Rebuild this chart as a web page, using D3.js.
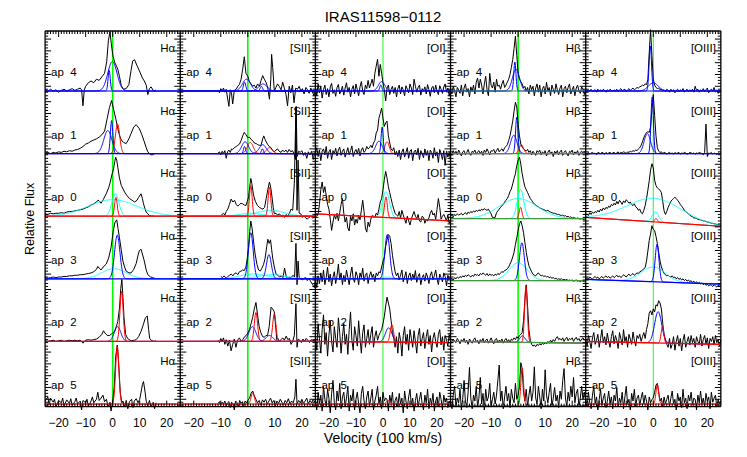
<!DOCTYPE html>
<html><head><meta charset="utf-8">
<script src="https://cdnjs.cloudflare.com/ajax/libs/d3/7.8.5/d3.min.js"></script>
<style>body{margin:0;background:#fff} svg{display:block} text{font-family:"Liberation Sans",Arial,sans-serif;fill:#000}</style>
</head><body><svg id="c" width="747" height="457"></svg>
<script>
// ---------------- categories / labels ----------------
const apertures = ["ap  4","ap  1","ap  0","ap  3","ap  2","ap  5"];
const lineNames = ["Hα","[SII]","[OI]","Hβ","[OIII]"];
const xTickLabels = [-20,-10,0,10,20];
const titleText = "IRAS11598−0112";
const xTitle = "Velocity (100 km/s)";
const yTitle = "Relative Flux";

// ---------------- observed spectra (velocity in 100 km/s, relative flux) ----------------
const ha_ap4 = [[-25,0.02],[-24,-0.01],[-23,0.03],[-22,0],[-21,0.02],[-20,-0.02],[-19,0.01],[-18,0.03],[-17,0],[-16,0.02],[-15,0.04],[-14,0.01],[-13,0.03],[-12,0.05],[-11.5,0.02],[-11,-0.25],[-10.5,0.02],[-10,0.08],[-9,0.14],[-8,0.17],[-7,0.14],[-6,0.2],[-5,0.18],[-4,0.24],[-3,0.3],[-2.2,0.5],[-1.6,0.85],[-1,1.0],[-0.5,0.8],[0,0.62],[0.7,0.49],[1.4,0.42],[1.9,0.37],[2.5,0.25],[3.2,0.09],[4,0.03],[5,0.04],[6,0.11],[6.8,0.35],[7.4,0.51],[8.1,0.53],[9,0.43],[9.9,0.34],[11,0.22],[11.7,0.17],[12.4,0.1],[13,-0.06],[13.6,0.04],[14.2,0.07],[15,0.01],[15.5,0],[16,0.02]];
const ha_ap1 = [[-25,0.01],[-24,0.02],[-23,0],[-22,0.02],[-21,0.01],[-20,0.03],[-19,0.02],[-18,0.04],[-17,0.03],[-16,0.05],[-15,0.04],[-14,0.06],[-13,0.07],[-12,0.09],[-11,0.12],[-10,0.16],[-9,0.18],[-8,0.21],[-7,0.23],[-6,0.25],[-5,0.28],[-4,0.32],[-3,0.38],[-2,0.6],[-1.2,0.78],[-0.4,0.9],[0.3,0.76],[1.1,0.6],[1.9,0.42],[2.6,0.3],[3.2,0.23],[4,0.19],[5,0.17],[6,0.25],[6.8,0.34],[7.8,0.45],[8.7,0.49],[9.9,0.42],[10.8,0.32],[11.7,0.2],[12.4,0.1],[13,0.03],[14,-0.02],[14.8,-0.02],[15.5,0]];
const ha_ap0 = [[-25,0.04],[-24,0.03],[-23,0.05],[-22,0.04],[-21,0.05],[-20,0.05],[-19,0.06],[-18,0.05],[-17,0.07],[-16,0.08],[-15,0.08],[-14,0.09],[-13,0.1],[-12,0.11],[-11,0.12],[-10,0.14],[-9,0.16],[-8,0.19],[-7,0.21],[-6,0.24],[-5.5,0.27],[-5,0.26],[-4.3,0.22],[-3.5,0.28],[-2.4,0.38],[-1.5,0.48],[-1,0.56],[-0.3,0.7],[0.3,0.8],[0.8,0.93],[1.1,1.0],[1.5,0.95],[1.9,0.83],[2.5,0.65],[3.2,0.52],[4.4,0.41],[5.3,0.35],[6.2,0.3],[7.2,0.27],[8.1,0.24],[9,0.27],[9.6,0.32],[10.5,0.38],[11,0.3],[11.4,0.21],[12,0.12],[12.4,0.07],[13,0.04],[13.6,0.01],[14.5,0],[15,0.01]];
const ha_ap3 = [[-25,0.02],[-24,0.01],[-23,0.02],[-22,0.03],[-21,0.02],[-20,0.03],[-19,0.03],[-18,0.04],[-17,0.04],[-16,0.05],[-15,0.05],[-14,0.06],[-13,0.06],[-12,0.07],[-11,0.07],[-10,0.08],[-9,0.09],[-8,0.1],[-7,0.12],[-6,0.16],[-5.5,0.21],[-5,0.18],[-4.3,0.15],[-3.5,0.2],[-2.4,0.25],[-1.5,0.35],[-0.6,0.53],[0.2,0.8],[0.8,0.95],[1.5,1.0],[2,0.85],[2.5,0.7],[3.2,0.48],[3.8,0.3],[4.4,0.2],[5,0.13],[6,0.1],[6.8,0.1],[7.8,0.16],[8.7,0.26],[9.4,0.4],[9.9,0.48],[10.5,0.5],[11,0.42],[11.7,0.3],[12.4,0.15],[13,0.07],[14,0.03],[14.8,0.02],[15.5,0.01]];
const ha_ap2 = [[-25,0.01],[-24,0],[-23,0.01],[-22,0.02],[-21,0],[-20,0.01],[-19,0.02],[-18,0],[-17,0.01],[-16,0.02],[-15,0.01],[-14,0.02],[-13,0.01],[-12,0.02],[-11,-0.03],[-10,0.02],[-9,0.03],[-8,0.02],[-7,0.03],[-6,0.04],[-5,0.07],[-4,0.12],[-3.4,0.18],[-2.8,0.14],[-2,0.1],[-1.2,0.1],[-0.3,0.13],[0.7,0.17],[1.4,0.26],[1.9,0.34],[2.5,0.55],[3,0.9],[3.4,1.05],[3.8,0.75],[4.2,0.4],[4.8,0.12],[5.5,0.05],[6.8,0.01],[8,0.02],[8.7,0.03],[9.6,0.08],[10.5,0.17],[11.3,0.28],[12.1,0.4],[12.8,0.43],[13.3,0.2],[13.7,0.05],[14.5,0.01],[15.5,0],[16,0.01]];
const ha_ap5 = [[-25,0.05],[-24,0.12],[-23.5,-0.02],[-23,0.1],[-22,0.03],[-21.5,0.08],[-21,-0.05],[-20,0.06],[-19,0.02],[-18.5,0.1],[-18,-0.03],[-17,0.07],[-16,0.01],[-15.5,0.09],[-15,-0.02],[-14,0.04],[-13.5,0.1],[-13,0.0],[-12,0.05],[-11.5,-0.1],[-11,0.06],[-10,0.02],[-9.5,0.08],[-9,-0.04],[-8,0.05],[-7.5,0.12],[-7,0.02],[-6,0.08],[-5.5,0.2],[-5,0.06],[-4.3,0.1],[-3.6,0.15],[-3,0.04],[-2.3,0.08],[-1.7,-0.05],[-1,0.03],[-0.6,-0.12],[0,0.05],[0.6,0.3],[1.1,0.8],[1.7,1.0],[2.2,0.7],[2.8,0.2],[3.4,0.02],[3.8,0.05],[4.5,-0.05],[5,0.06],[5.6,-0.08],[6.2,0.04],[7,0.08],[7.5,-0.06],[8,0.05],[8.7,0.09],[9.4,0.02],[10,0.08],[10.5,0.2],[11,0.33],[11.4,0.38],[12,0.2],[12.4,0.05],[13,-0.03],[13.6,0.06],[14.2,-0.05],[15,0.03],[15.5,-0.08],[16,0.02]];

const sii_ap4 = [[-11,0.02],[-10.5,-0.03],[-10,0.04],[-9.5,0.0],[-9,0.05],[-8.5,-0.02],[-8,0.03],[-7.5,-0.12],[-7,-0.26],[-6.5,0.02],[-6,-0.05],[-5.6,-0.22],[-5,0.01],[-4.3,0.03],[-3.7,0.08],[-3.1,0.11],[-2.5,0.2],[-1.9,0.37],[-1.3,0.58],[-0.7,0.3],[0,0.25],[0.6,0.16],[1.2,0.12],[1.8,0.08],[2.4,0.1],[3,0.05],[3.6,0.12],[4.3,0.08],[4.9,0.18],[5.5,0.26],[6.1,0.2],[6.8,0.14],[7.4,0.05],[8,-0.14],[8.5,0.2],[8.8,0.62],[9.2,0.4],[9.8,0.0],[10.4,0.06],[11,0.12],[11.6,0.08],[12.3,0.02],[12.9,0.15],[13.5,0.05],[14.1,-0.05],[14.7,-0.25],[15.3,0.08],[15.9,-0.03],[16.5,0.1],[17.1,-0.2],[17.7,0.05],[18.4,0.03],[19,0.08],[19.6,0.0],[20.2,0.04],[20.8,-0.05],[21.5,0.06],[22.1,0.02],[22.7,-0.04],[23.3,0.05],[23.9,-0.02],[24.5,-0.08],[25,0.02]];
const sii_ap1 = [[-11,0.01],[-10.5,0.03],[-10,-0.02],[-9.5,0.04],[-9,0.0],[-8.5,0.05],[-8,-0.08],[-7.5,0.03],[-7,0.06],[-6.5,0.02],[-6,0.08],[-5.6,0.07],[-5,0.1],[-4.3,0.12],[-3.7,0.14],[-3.1,0.16],[-2.5,0.22],[-1.9,0.3],[-1.3,0.36],[-0.7,0.32],[0,0.27],[0.6,0.28],[1.2,0.24],[1.8,0.22],[2.4,0.18],[3.1,0.17],[3.7,0.15],[4.3,0.14],[4.9,0.14],[5.5,0.25],[5.9,0.3],[6.4,0.24],[6.8,0.2],[7.4,0.15],[8,0.12],[8.6,0.1],[9.2,0.05],[9.8,0.03],[10.4,0.06],[11,0.08],[11.6,0.04],[12.3,0.02],[12.9,0.06],[13.5,0.03],[14.1,0.06],[14.7,0.02],[15.3,0.07],[15.9,0.03],[16.5,0.05],[17.1,0.0],[17.6,-0.1],[17.9,0.8],[18.2,-0.05],[18.8,0.04],[19.4,0.02],[20,0.05],[20.6,-0.03],[21.2,0.02],[21.8,-0.08],[22.4,0.03],[23,-0.02],[23.6,0.04],[24.2,-0.1],[24.8,0.02]];
const sii_ap0 = [[-10,0.01],[-9.5,0.03],[-9,0.05],[-8.5,0.02],[-8,0.08],[-7.4,0.12],[-6.8,0.2],[-6.2,0.29],[-5.5,0.24],[-4.9,0.27],[-4.3,0.2],[-3.7,0.17],[-3.1,0.2],[-2.5,0.22],[-1.9,0.21],[-1.3,0.19],[-0.7,0.18],[-0.2,0.25],[0.3,0.33],[0.7,0.5],[1.1,0.64],[1.5,0.55],[2.1,0.36],[2.8,0.25],[3.6,0.18],[4.3,0.15],[5,0.13],[5.6,0.12],[6.2,0.15],[6.8,0.3],[7.4,0.45],[8,0.58],[8.5,0.48],[8.9,0.34],[9.4,0.15],[9.8,0.04],[10.4,0.05],[11,0.02],[11.7,0.04],[12.4,0.0],[13,0.02],[13.5,-0.02],[14.2,0.03],[14.8,0.0],[15.4,0.05],[16,0.12],[16.6,0.1],[17.2,0.55],[17.8,1.85],[18.2,0.1],[18.6,0.95],[19,0.05],[19.6,0.04],[20.2,-0.02],[20.8,0.01],[21.4,-0.03],[22,-0.05],[22.6,-0.02],[23.3,0.0],[24,-0.03],[24.6,-0.02],[25,-0.01]];
const sii_ap3 = [[-10,0.04],[-9.4,0.02],[-8.8,0.05],[-8,0.01],[-7.4,0.04],[-6.8,0.06],[-6.1,0.08],[-5.5,0.05],[-4.9,0.09],[-4.3,0.1],[-3.7,0.07],[-3.1,0.12],[-2.5,0.13],[-1.9,0.15],[-1.3,0.14],[-0.7,0.2],[-0.2,0.35],[0.3,0.55],[0.7,0.8],[1.1,0.98],[1.6,0.85],[2.1,0.64],[2.7,0.42],[3.4,0.24],[4,0.15],[4.6,0.13],[5.2,0.18],[5.8,0.24],[6.4,0.35],[7,0.55],[7.4,0.67],[7.9,0.6],[8.4,0.66],[8.8,0.5],[9.2,0.35],[9.8,0.2],[10.5,0.07],[11.1,0.06],[11.7,0.03],[12.4,0.05],[13,0.02],[13.6,0.18],[14.2,0.04],[14.8,0.0],[15.4,0.03],[16,0.02],[16.7,0.06],[17.3,0.03],[17.8,0.6],[18.2,-0.1],[18.6,0.3],[19,0.02],[19.6,0.0],[20.2,-0.02],[20.8,0.01],[21.4,0.02],[22,-0.03],[22.6,0.01],[23.3,-0.05],[24,-0.1],[24.6,-0.15],[25,0.0]];
const sii_ap2 = [[-11,0.02],[-10.5,-0.02],[-10,0.05],[-9.5,0.0],[-9,0.06],[-8.5,-0.05],[-8,0.03],[-7.4,-0.08],[-6.8,0.02],[-6.2,-0.16],[-5.6,-0.05],[-5,0.04],[-4.4,-0.1],[-3.8,0.02],[-3.1,0.06],[-2.5,0.0],[-1.9,0.03],[-1.2,0.08],[-0.6,0.1],[0,0.14],[0.6,0.2],[1.2,0.3],[1.8,0.41],[2.4,0.55],[3,0.66],[3.6,0.45],[4.2,0.25],[4.8,0.15],[5.5,0.08],[6.1,0.07],[6.7,0.1],[7.3,0.1],[7.9,0.25],[8.6,0.58],[9.2,0.55],[9.8,0.5],[10.4,0.2],[10.7,0.03],[11.1,0.05],[11.7,0.0],[12.3,0.03],[12.9,0.06],[13.5,0.02],[14.2,0.09],[14.8,0.03],[15.4,0.05],[16,-0.05],[16.6,0.0],[17.2,0.1],[17.8,0.64],[18.2,-0.1],[18.6,0.04],[19.2,0.02],[19.8,-0.02],[20.4,0.04],[21,0.0],[21.6,0.05],[22.2,0.02],[22.8,-0.02],[23.4,0.03],[24,0.01],[24.6,0.02],[25,0.0]];
const sii_ap5 = [[-11,0.01],[-10.5,0.04],[-10,-0.02],[-9.5,0.03],[-9,0.0],[-8.5,0.05],[-8,-0.03],[-7.5,0.02],[-7,0.04],[-6.5,-0.06],[-6,0.03],[-5.5,0.0],[-5,-0.1],[-4.5,0.05],[-4,0.02],[-3.5,-0.04],[-3,0.06],[-2.5,0.01],[-2,0.04],[-1.5,-0.03],[-1,0.05],[-0.5,0.02],[0,0.06],[0.6,0.1],[1.2,0.18],[1.8,0.22],[2.4,0.14],[3,0.08],[3.6,0.02],[4.2,0.06],[4.8,-0.02],[5.4,0.07],[6,0.03],[6.6,0.08],[7.2,0.0],[7.8,0.05],[8.4,0.1],[9,0.02],[9.6,0.06],[10.2,-0.03],[10.8,0.05],[11.4,0.01],[12,0.08],[12.6,0.03],[13.2,-0.02],[13.8,0.06],[14.4,0.02],[15,0.09],[15.6,0.0],[16.2,0.05],[16.8,0.02],[17.4,0.12],[17.8,0.42],[18.2,0.0],[18.8,0.06],[19.4,0.02],[20,0.08],[20.6,0.01],[21.2,0.05],[21.8,0.1],[22.4,0.0],[23,0.06],[23.6,0.02],[24.2,0.08],[24.8,0.03]];

// uniformly sampled spectra: velocity -25 .. 25, every 0.5
const gridStart = -25, gridStep = 0.5;
const oi_ap4 = [0.05,-0.08,0.12,-0.03,0.08,-0.12,0.02,0.1,-0.06,0.04,-0.1,0.07,0.13,-0.04,0.02,-0.09,0.06,0.11,-0.05,0.0,0.08, -0.07,0.05,0.14,-0.02,0.06,-0.1,0.03,0.09,-0.05,0.12,0.02,-0.08,0.07,0.16,0.0,-0.06,0.1,0.04,0.18,0.05, 0.12,0.2,0.08,0.3,0.42,0.54,0.25,0.45,0.3,0.14, 0.02,-0.17,0.05,0.1,-0.06,0.03,0.08,-0.04,0.06,-0.1, 0.04,0.1,-0.05,0.07,0.02,-0.08,0.09,0.03,-0.03,0.12,0.05,-0.06,0.2,0.08,-0.02,0.06,0.1,-0.07,0.04,0.0, 0.07,-0.05,0.11,0.02,-0.09,0.05,0.08,-0.03,0.1,0.0,-0.06,0.09,0.03,-0.04,0.07,0.12,-0.02,0.05,-0.08,0.03];
const oi_ap1 = [0.02,0.1,-0.05,0.06,-0.12,0.04,0.08,-0.02,0.12,-0.08,0.03,0.07,-0.1,0.05,0.0,0.09,-0.04,0.06,0.11,-0.03,0.04, 0.08,-0.06,0.02,0.1,-0.02,0.05,0.13,-0.05,0.03,0.07,0.0,0.09,-0.04,0.06,0.1,0.02,0.05,0.12,0.08,0.1, 0.14,0.1,0.18,0.22,0.35,0.4,0.6,0.68,0.77,0.6, 0.46,0.52,0.55,0.3,0.18,0.08,0.05,0.1,-0.02,0.04, -0.05,0.06,-0.1,0.03,0.08,-0.06,0.02,0.1,-0.08,0.04,0.07,-0.12,0.03,0.06,-0.02,0.09,-0.1,0.05,0.0,-0.07, 0.08,-0.03,0.05,-0.12,0.06,0.02,-0.08,0.1,-0.04,0.03,-0.15,0.07,0.0,-0.1,0.05,-0.2,0.04,-0.06,0.02,-0.12];
const oi_ap0 = [0.01,0.0,0.03,0.2,0.45,0.58,0.4,0.5,0.35,0.2,0.12,-0.05,-0.24,-0.1,0.02,-0.05,0.05,-0.08,0.06,0.2,0.3, 0.05,-0.1,-0.02,-0.2,-0.25,0.0,-0.08,0.04,-0.15,-0.05,-0.12,0.02,-0.06,0.1,0.27,0.08,-0.2,-0.27,-0.1,-0.18, -0.05,0.01,0.0,-0.02,0.05,0.02,0.12,0.24,0.3,0.45, 0.62,0.76,0.65,0.5,0.4,0.3,0.2,0.12,0.05,0.02, 0.0,0.08,-0.03,0.1,0.02,-0.05,-0.12,0.0,-0.08,-0.15,-0.05,0.02,0.08,0.0,-0.04,0.03,-0.08,-0.1,0.0,-0.02, -0.12,-0.06,-0.08,-0.03,0.05,0.1,0.02,0.05,-0.05,0.12,0.3,0.15,-0.05,0.0,0.03,-0.02,-0.08,0.02,-0.12,-0.06];
const oi_ap3 = [0.0,-0.15,0.05,-0.08,0.1,-0.05,0.15,-0.1,0.02,0.2,-0.05,0.08,-0.12,0.03,0.12,-0.08,0.05,0.25,-0.02,0.1,-0.1, 0.06,-0.05,0.15,0.02,-0.1,0.08,0.2,0.0,-0.06,0.12,0.05,-0.1,0.1,0.02,0.18,-0.04,0.06,0.1,-0.08,0.05, 0.12,0.02,0.08,-0.05,0.1,0.05,0.12,0.1,0.2,0.3, 0.36,0.55,0.66,0.75,0.72,0.6,0.4,0.25,0.12,0.05, 0.1,-0.02,0.06,0.15,-0.05,0.03,0.12,-0.08,0.05,0.1,-0.03,0.08,0.0,0.14,-0.06,0.04,0.09,-0.1,0.02,0.07, -0.04,0.1,0.03,-0.08,0.06,0.12,-0.02,0.05,0.15,0.0,-0.1,0.08,0.02,-0.05,0.1,0.04,-0.12,0.06,0.0,0.03];
const oi_ap2 = [0.1,-0.15,0.3,0.05,-0.2,0.2,0.45,-0.05,0.15,-0.25,0.1,0.35,0.0,-0.18,0.25,0.05,-0.1,0.4,0.15,-0.2,0.08, 0.3,-0.05,0.12,-0.22,0.2,0.5,0.02,-0.15,0.25,0.1,-0.08,0.35,0.05,-0.2,0.15,0.28,-0.1,0.05,0.2,-0.05, 0.12,0.25,-0.1,0.08,0.18,0.02,0.1,0.15,0.2,0.3, 0.42,0.6,0.75,0.65,0.55,0.35,0.15,0.05,-0.1,0.08, -0.2,0.15,0.02,-0.25,0.1,0.25,-0.05,0.12,-0.15,0.2,0.05,-0.1,0.18,0.0,-0.2,0.1,0.22,-0.08,0.05,0.15, -0.12,0.08,0.2,-0.05,0.1,-0.18,0.05,0.15,0.0,-0.1,0.12,0.2,-0.06,0.08,-0.15,0.1,0.03,-0.08,0.12,0.0];
const oi_ap5 = [0.05,-0.1,0.2,0.0,0.15,-0.12,0.3,0.08,-0.05,0.25,0.1,-0.15,0.18,0.4,0.02,-0.1,0.22,0.05,0.35,-0.08,0.12, 0.2,-0.05,0.1,0.3,-0.12,0.15,0.05,0.25,-0.1,0.08,0.2,0.0,-0.15,0.18,0.3,0.05,-0.08,0.12,0.22,-0.05, 0.1,0.25,-0.1,0.05,0.15,0.3,0.0,0.12,-0.08,0.2, 0.05,0.1,0.08,-0.12,0.15,0.02,0.2,-0.1,0.06,0.12, -0.05,0.18,0.0,0.1,-0.15,0.22,0.05,-0.08,0.12,0.25,-0.02,0.1,-0.12,0.06,0.18,-0.05,0.08,0.2,0.0,-0.1, 0.15,0.02,0.25,-0.08,0.1,0.0,0.18,-0.12,0.05,0.12,-0.05,0.2,0.08,-0.1,0.15,0.03,0.1,-0.06,0.05,0.0];

const hb_ap4 = [0.03,-0.05,0.08,0.0,-0.1,0.06,0.02,-0.04,0.1,-0.08,0.05,0.12,-0.02,0.04,-0.1,0.07,0.0,0.1,-0.05,0.15,0.22, 0.05,0.2,0.1,-0.05,0.12,0.25,0.02,-0.08,0.3,0.1,0.05,0.15,-0.02,0.2,0.08,0.1,0.03,0.12,0.18,0.06, 0.1,0.15,0.2,0.28,0.4,0.53,0.72,0.93,0.6,0.3, 0.2,0.16,0.12,0.05,0.08,0.0,0.06,-0.05,0.1,0.02, 0.08,-0.08,0.05,0.12,-0.02,0.1,-0.1,0.04,0.08,-0.05,0.15,0.0,0.06,-0.08,0.1,0.03,-0.04,0.12,0.02,-0.06, 0.05,0.1,-0.1,0.04,0.08,-0.03,0.06,0.12,-0.05,0.02,0.08,-0.08,0.05,0.1,0.0,-0.04,0.07,0.03,-0.06,0.04];
const hb_ap1 = [0.02,-0.03,0.05,0.0,0.04,-0.02,0.06,0.01,-0.04,0.03,0.05,-0.02,0.02,0.07,0.0,-0.03,0.04,0.02,0.06,-0.01,0.03, 0.05,0.0,0.04,-0.03,0.06,0.02,0.08,0.03,-0.02,0.05,0.04,0.07,0.01,0.05,0.09,0.03,0.06,0.08,0.04,0.1, 0.12,0.15,0.22,0.3,0.42,0.55,0.72,0.87,0.79,0.5, 0.3,0.16,0.11,0.08,0.06,0.04,0.07,0.02,0.05,-0.02, 0.04,0.01,-0.03,0.05,0.02,0.06,-0.02,0.03,0.0,0.05,-0.04,0.02,0.06,0.0,0.03,-0.05,0.04,0.01,0.05,-0.02, 0.03,0.06,-0.03,0.02,0.05,0.0,-0.04,0.04,0.02,0.06,-0.02,0.03,0.0,0.05,-0.03,0.02,0.04,-0.01,0.03,0.01];
const hb_ap0 = [0.0,0.02,-0.01,0.03,0.01,0.04,0.02,0.03,0.05,0.02,0.04,0.06,0.03,0.07,0.05,0.08,0.06,0.09,0.07,0.1,0.08, 0.11,0.09,0.12,0.1,0.13,0.11,0.1,0.12,0.08,0.04,-0.02,-0.02,-0.02,0.06,0.09,0.12,0.15,0.18,0.2,0.24, 0.27,0.3,0.35,0.42,0.46,0.55,0.64,0.72,0.86,0.95, 1.0,0.88,0.72,0.6,0.5,0.45,0.4,0.35,0.3,0.27, 0.23,0.21,0.19,0.17,0.16,0.14,0.13,0.12,0.11,0.1,0.09,0.1,0.08,0.07,0.06,0.05,0.05,0.04,0.03,0.03, 0.02,0.01,0.02,0.0,0.01,-0.01,0.0,-0.02,-0.01,-0.03,-0.02,-0.03,-0.04,-0.03,-0.04,-0.05,-0.04,-0.05,-0.06,-0.05];
const hb_ap3 = [-0.01,0.01,-0.02,0.02,0.0,0.03,0.01,0.04,0.02,0.05,0.03,0.06,0.04,0.07,0.05,0.03,0.06,0.04,0.08,0.06,0.07, 0.05,0.09,0.07,0.1,0.08,0.06,0.09,0.05,0.08,0.06,0.07,0.05,0.08,0.06,0.09,0.07,0.1,0.12,0.11,0.14, 0.15,0.17,0.2,0.25,0.3,0.37,0.45,0.58,0.7,0.82, 0.93,0.98,0.9,0.78,0.62,0.45,0.32,0.22,0.17,0.12, 0.08,0.06,0.05,0.08,0.1,0.07,0.05,0.06,0.04,0.05,0.03,0.04,0.02,0.03,0.01,0.02,0.0,0.01,-0.01,0.0, -0.01,0.0,-0.02,-0.01,-0.02,-0.01,-0.03,-0.02,-0.03,-0.02,-0.04,-0.03,-0.02,-0.04,-0.03,-0.05,-0.03,-0.04,-0.05,-0.03];
const hb_ap2 = [0.02,-0.03,0.04,0.0,-0.02,0.05,0.01,-0.04,0.03,0.0,0.05,-0.02,0.02,-0.05,0.04,0.01,-0.03,0.03,0.06,-0.01,0.02, -0.04,0.03,0.0,0.05,-0.02,0.02,0.04,-0.03,0.01,0.06,0.0,-0.04,0.03,0.05,-0.02,0.02,0.0,0.04,-0.03,0.02, 0.05,0.0,0.03,-0.02,0.04,0.02,0.06,0.03,0.08,0.05, 0.1,0.12,0.15,0.35,0.7,0.96,0.6,0.2,0.02,-0.05, -0.08,-0.06,-0.09,-0.05,-0.07,-0.04,-0.06,-0.03,-0.05,-0.02,-0.04,0.0,-0.03,0.02,-0.01,0.03,0.0,0.05,0.08,0.03, 0.05,0.02,0.06,0.0,0.04,0.07,0.01,0.05,0.03,0.06,0.0,0.04,0.07,0.02,0.05,0.0,0.04,0.06,0.02,0.05];
const hb_ap5 = [0.05,-0.08,0.15,0.3,-0.05,0.1,0.02,0.25,-0.1,0.08,0.4,0.05,-0.06,0.2,0.62,0.1,-0.08,0.15,0.05,0.3,-0.05, 0.1,0.45,0.0,0.18,-0.1,0.25,0.05,0.12,0.35,-0.05,0.08,0.2,0.0,0.15,0.4,0.66,0.05,0.22,-0.08,0.12, 0.3,0.05,0.18,-0.06,0.25,0.1,0.02,0.35,0.08,0.15, 0.3,0.7,0.6,0.2,0.05,0.25,-0.05,0.15,0.3,0.05, 0.2,0.63,0.1,0.0,0.3,0.12,-0.08,0.25,0.05,0.58,0.15,0.02,0.2,0.35,-0.05,0.1,0.28,0.05,0.15,-0.06, 0.22,0.08,0.4,0.6,0.1,-0.04,0.2,0.05,0.3,0.12,0.45,0.02,0.18,0.25,-0.05,0.1,0.3,0.08,0.2,0.05];

const oiii_ap4 = [0.01,-0.02,0.02,0.0,0.03,-0.01,0.01,0.02,-0.02,0.03,0.0,0.02,-0.01,0.03,0.01,-0.02,0.02,0.0,0.03,0.01,-0.01, 0.02,0.0,0.03,-0.01,0.02,0.04,0.0,0.02,0.03,-0.01,0.02,0.04,0.01,0.03,0.05,0.02,0.04,0.06,0.05,0.07, 0.08,0.1,0.09,0.12,0.11,0.2,0.65,1.04,0.6,0.2, 0.1,0.06,0.04,0.05,0.02,0.03,0.0,0.02,-0.01,0.03, 0.01,-0.02,0.03,0.0,0.02,-0.03,0.01,0.03,-0.01,0.02,0.0,0.04,-0.02,0.01,0.03,-0.01,0.02,0.0,0.03,-0.02, 0.08,0.01,0.03,-0.02,0.02,0.0,0.04,-0.01,0.02,0.05,-0.03,0.01,0.03,0.0,0.06,-0.02,0.02,-0.04,0.01,0.0];
const oiii_ap1 = [0.01,0.0,0.02,-0.01,0.01,0.02,0.0,0.01,-0.02,0.02,0.01,0.0,0.02,0.01,-0.01,0.02,0.0,0.01,0.02,0.0,0.01, 0.02,0.0,0.01,0.03,0.0,0.02,0.01,0.03,0.02,0.0,0.03,0.02,0.04,0.03,0.05,0.04,0.06,0.05,0.08,0.1, 0.14,0.2,0.27,0.32,0.36,0.37,0.36,0.45,0.75,1.0, 0.65,0.3,0.1,0.04,0.02,0.03,0.0,0.02,0.01,-0.01, 0.01,0.02,0.0,0.01,-0.01,0.02,0.0,0.01,0.02,-0.01,0.01,0.0,0.02,0.01,-0.01,0.0,0.02,0.01,0.0,0.01, -0.01,0.01,0.0,0.02,0.01,0.0,-0.02,0.02,0.5,-0.05,0.01,0.0,0.02,-0.01,0.01,0.0,-0.02,0.01,0.0,0.01];
const oiii_ap0 = [0.02,0.04,0.01,0.06,0.03,0.07,0.05,0.08,0.06,0.1,0.07,0.12,0.09,0.14,0.11,0.15,0.13,0.17,0.15,0.2,0.18, 0.22,0.19,0.25,0.21,0.27,0.24,0.2,0.26,0.23,0.28,0.25,0.22,0.24,0.2,0.18,0.21,0.16,0.14,0.1,0.12, 0.06,0.04,0.1,0.18,0.3,0.44,0.6,0.78,0.89,0.82, 0.61,0.52,0.48,0.46,0.44,0.4,0.25,0.09,0.03,0.08, 0.15,0.2,0.25,0.28,0.3,0.32,0.3,0.27,0.24,0.2,0.17,0.14,0.1,0.08,0.06,0.04,0.02,0.0,-0.01,-0.03, -0.03,-0.04,-0.05,-0.06,-0.06,-0.07,-0.08,-0.08,-0.09,-0.1,-0.1,-0.11,-0.12,-0.12,-0.13,-0.13,-0.14,-0.14,-0.15,-0.15];
const oiii_ap3 = [0.0,0.02,-0.01,0.03,0.01,0.0,0.02,0.04,0.01,0.03,0.0,0.02,0.04,0.01,0.03,0.05,0.02,0.04,0.01,0.03,0.05, 0.02,0.04,0.06,0.03,0.05,0.02,0.04,0.07,0.05,0.03,0.06,0.08,0.05,0.07,0.09,0.06,0.08,0.1,0.09,0.12, 0.13,0.15,0.17,0.19,0.3,0.47,0.65,0.76,0.9,0.84, 0.82,0.72,0.6,0.45,0.3,0.2,0.14,0.09,0.07,0.05, 0.06,0.04,0.03,0.05,0.02,0.03,0.0,0.02,-0.01,0.01,-0.02,0.0,-0.03,-0.01,-0.04,-0.02,-0.05,-0.03,-0.06,-0.04, -0.07,-0.05,-0.08,-0.06,-0.09,-0.07,-0.1,-0.08,-0.11,-0.09,-0.12,-0.1,-0.11,-0.13,-0.1,-0.12,-0.14,-0.11,-0.12,-0.13];
const oiii_ap2 = [0.05,-0.08,0.1,0.0,-0.12,0.06,0.15,-0.05,0.02,0.12,-0.1,0.05,0.2,-0.02,0.08,-0.06,0.14,0.0,-0.1,0.08,0.18, -0.04,0.1,0.02,-0.12,0.15,0.05,-0.06,0.2,0.0,0.08,-0.1,0.12,0.04,-0.05,0.16,0.02,-0.08,0.1,0.05,0.12, 0.0,0.08,0.15,0.05,0.2,0.3,0.48,0.52,0.45,0.55, 0.5,0.62,0.6,0.69,0.65,0.55,0.3,0.12,0.02,-0.05, -0.1,0.05,-0.12,-0.05,0.08,-0.15,0.0,0.1,-0.08,0.05,-0.16,0.02,0.12,-0.1,0.0,0.08,-0.06,0.1,-0.02,0.05, -0.1,0.08,0.0,-0.05,0.12,-0.08,0.03,0.1,-0.04,0.06,-0.12,0.05,0.0,0.08,-0.06,0.1,-0.02,0.04,-0.08,0.02];
const oiii_ap5 = [0.1,-0.05,0.2,0.02,-0.08,0.15,0.3,0.0,0.12,-0.1,0.08,0.25,-0.02,0.1,0.18,-0.06,0.05,0.22,0.0,0.12,-0.08, 0.15,0.05,0.28,-0.05,0.1,0.02,0.2,-0.08,0.12,0.3,0.0,0.08,-0.1,0.18,0.05,0.25,-0.04,0.1,0.15,-0.02, 0.1,0.2,0.0,0.15,0.05,-0.1,0.12,0.02,0.08,0.1, 0.2,0.32,0.35,0.2,0.05,0.1,-0.05,0.12,0.0,0.08, 0.15,-0.05,0.1,0.22,0.0,0.08,-0.1,0.18,0.05,0.12,-0.06,0.25,0.02,0.1,-0.08,0.15,0.05,0.2,-0.02,0.1, 0.08,-0.1,0.15,0.02,0.22,0.0,0.1,-0.05,0.18,0.05,0.12,-0.08,0.2,0.03,0.1,0.15,-0.05,0.08,0.0,0.05];

// ---------------- Gaussian fit components: [kind, amplitude, centre, sigma] ----------------
const fit_ha_ap4 = [["b",0.5,-0.1,1.7],["b",0.35,-1.3,0.4]];
const fit_ha_ap1 = [["b",0.39,-1.8,1.5],["b",0.56,-0.4,0.45],["r",0.5,1.8,0.8]];
const fit_ha_ap0 = [["c",0.28,0,9],["c",0.38,1,1.3],["r",0.32,1.2,0.5]];
const fit_ha_ap3 = [["c",0.17,0.5,4.5],["b",0.74,1.7,1.0]];
const fit_ha_ap2 = [["b",0.25,1.8,1.2],["r",0.85,3.3,0.6]];
const fit_ha_ap5 = [["r",0.98,1.7,0.6]];
const fit_sii_ap4 = [["b",0.2,-0.5,1.5],["b",0.12,5.6,1.5],["b",0.15,-1.2,0.45],["b",0.08,5,0.45]];
const fit_sii_ap1 = [["r",0.19,0.9,1.1],["r",0.1,8,1.1],["b",0.2,-1.0,1.3],["b",0.15,5.5,1.3],["b",0.12,-1.2,0.4],["b",0.08,5.4,0.4]];
const fit_sii_ap0 = [["c",0.05,1,4],["c",0.1,8.5,5],["r",0.52,1.1,0.5],["r",0.49,8,0.5]];
const fit_sii_ap3 = [["c",0.08,2,5],["c",0.07,9,5],["b",0.78,1.1,0.9],["b",0.41,7.8,0.9]];
const fit_sii_ap2 = [["b",0.25,1.7,1.3],["b",0.1,8,1.3],["r",0.49,3.0,0.6],["r",0.47,9.8,0.6]];
const fit_sii_ap5 = [["r",0.19,1.8,0.6]];
const fit_oi_ap4 = [["b",0.16,-0.5,1.2],["b",0.1,-0.8,0.4]];
const fit_oi_ap1 = [["r",0.2,1.5,0.8],["b",0.21,-1.5,1.2],["b",0.45,-0.3,0.4]];
const fit_oi_ap0 = [["c",0.44,1.1,1.3],["r",0.35,1.1,0.5]];
const fit_oi_ap3 = [["c",0.03,1.5,2],["b",0.75,1.6,0.9]];
const fit_oi_ap2 = [["b",0.24,2.1,1.2],["r",0.3,3.3,0.6]];
const fit_oi_ap5 = [["r",0.06,1.8,0.6]];
const fit_hb_ap4 = [["b",0.37,-0.8,1.3],["b",0.49,-1.2,0.4]];
const fit_hb_ap1 = [["b",0.31,-1.6,1.2],["b",0.62,-0.5,0.45],["r",0.15,1.2,0.8]];
const fit_hb_ap0 = [["c",0.34,0,7],["c",0.49,0.9,1.2],["r",0.19,0.9,0.5]];
const fit_hb_ap3 = [["c",0.3,0,3.4],["b",0.64,1.4,0.9]];
const fit_hb_ap2 = [["b",0.11,1.6,1.0],["r",0.96,2.9,0.5]];
const fit_hb_ap5 = [["r",0.64,1.5,0.5]];
const fit_oiii_ap4 = [["b",0.14,0,1.8],["b",0.76,-1.1,0.45]];
const fit_oiii_ap1 = [["b",0.34,-2.2,1.2],["b",0.96,-0.4,0.45]];
const fit_oiii_ap0 = [["c",0.4,0.3,10],["c",0.17,0.8,1.2],["r",0.06,1,0.5]];
const fit_oiii_ap3 = [["c",0.25,0,4.5],["b",0.64,1.4,0.7]];
const fit_oiii_ap2 = [["b",0.53,1.8,1.3],["r",0.28,3.4,0.5]];
const fit_oiii_ap5 = [["r",0.33,1.5,0.5]];

// continuum at v=-25 and v=+25 and its colour kind (rows ap4, ap1, ap0, ap3, ap2, ap5)
const contHa   = [[0,0,"b"],[0,0,"b"],[0,0,"r"],[0,0,"b"],[0,0,"r"],[0,0,"r"]];
const contSii  = [[0,0,"b"],[0,0,"b"],[0,0,"r"],[0,0,"b"],[0,0,"r"],[0,0,"r"]];
const contOi   = [[0,0,"b"],[0,0,"b"],[0.04,-0.08,"r"],[0,0,"b"],[0,-0.02,"r"],[0,0,"r"]];
const contHb   = [[0,0,"g"],[0,0,"g"],[-0.04,-0.04,"g"],[-0.03,-0.03,"g"],[0,-0.03,"g"],[-0.03,-0.03,"g"]];
const contOiii = [[0,0,"b"],[0,0,"b"],[-0.02,-0.17,"r"],[-0.01,-0.09,"b"],[0,-0.05,"r"],[0,0,"r"]];

// ---------------- assemble tables ----------------
const grid = vals => vals.map((f,i)=>[gridStart+i*gridStep,f]);
const spectra = [
  [ha_ap4, sii_ap4, grid(oi_ap4), grid(hb_ap4), grid(oiii_ap4)],
  [ha_ap1, sii_ap1, grid(oi_ap1), grid(hb_ap1), grid(oiii_ap1)],
  [ha_ap0, sii_ap0, grid(oi_ap0), grid(hb_ap0), grid(oiii_ap0)],
  [ha_ap3, sii_ap3, grid(oi_ap3), grid(hb_ap3), grid(oiii_ap3)],
  [ha_ap2, sii_ap2, grid(oi_ap2), grid(hb_ap2), grid(oiii_ap2)],
  [ha_ap5, sii_ap5, grid(oi_ap5), grid(hb_ap5), grid(oiii_ap5)]
];
const fits = [
  [fit_ha_ap4, fit_sii_ap4, fit_oi_ap4, fit_hb_ap4, fit_oiii_ap4],
  [fit_ha_ap1, fit_sii_ap1, fit_oi_ap1, fit_hb_ap1, fit_oiii_ap1],
  [fit_ha_ap0, fit_sii_ap0, fit_oi_ap0, fit_hb_ap0, fit_oiii_ap0],
  [fit_ha_ap3, fit_sii_ap3, fit_oi_ap3, fit_hb_ap3, fit_oiii_ap3],
  [fit_ha_ap2, fit_sii_ap2, fit_oi_ap2, fit_hb_ap2, fit_oiii_ap2],
  [fit_ha_ap5, fit_sii_ap5, fit_oi_ap5, fit_hb_ap5, fit_oiii_ap5]
];
const conts = [contHa, contSii, contOi, contHb, contOiii];

// ---------------- layout & style ----------------
const W = 747, H = 457;
const X0 = 45.1, colW = 135.15, Y0 = 31, rowH = 62.6;
const nCols = 5, nRows = 6;
const Y1 = Y0 + nRows*rowH;
const baseOff = 2.6, unitPx = 59;
const kindColor = {b:"#0000ff", r:"#ff0000", c:"#00ffff", g:"#3f9a3f"};
const zeroLineWidth = [1.6, 1.6, 0.9, 1.6, 0.9];

const svg = d3.select("#c");
svg.append("rect").attr("width",W).attr("height",H).attr("fill","#fff");

const xScales = d3.range(nCols).map(c => d3.scaleLinear().domain([-25,25]).range([X0+c*colW, X0+(c+1)*colW]));
const yScales = d3.range(nRows).map(r => { const b = Y0+(r+1)*rowH-baseOff; return d3.scaleLinear().domain([0,1]).range([b, b-unitPx]); });

const fineV = d3.range(-25, 25.0001, 0.1);
const g = svg.append("g");

for (let c=0;c<nCols;c++){
  const x = xScales[c];
  g.append("line").attr("x1",x(0)).attr("x2",x(0)).attr("y1",Y0).attr("y2",Y1)
    .attr("stroke","#00ff00").attr("stroke-width",zeroLineWidth[c]);
  for (let r=0;r<nRows;r++){
    const y = yScales[r];
    const line = d3.line().x(d=>x(d[0])).y(d=>y(d[1]));
    g.append("path").attr("d",line(spectra[r][c])).attr("fill","none").attr("stroke","#000").attr("stroke-width",1).attr("stroke-linejoin","round");
    const [c0,c1,ck] = conts[c][r];
    const cont = v => c0 + (c1-c0)*(v+25)/50;
    fits[r][c].forEach(([k,a,m,s])=>{
      const pts = fineV.map(v=>[v, cont(v) + a*Math.exp(-0.5*((v-m)/s)**2)]);
      g.append("path").attr("d",line(pts)).attr("fill","none").attr("stroke",kindColor[k]).attr("stroke-width",1);
    });
    g.append("path").attr("d",line([[-25,cont(-25)],[25,cont(25)]])).attr("fill","none").attr("stroke",kindColor[ck]).attr("stroke-width",1.2);
    g.append("text").attr("x",x.range()[0]+6).attr("y",Y0+r*rowH+45).attr("font-size",11.5).style("white-space","pre").text(apertures[r]);
    g.append("text").attr("x",x.range()[1]-5).attr("y",Y0+r*rowH+21).attr("font-size",11.5).attr("text-anchor","end").text(lineNames[c]);
  }
}

// ---------------- axes / frame ----------------
const ax = svg.append("g").attr("stroke","#000").attr("fill","none");
ax.append("line").attr("x1",X0).attr("x2",X0+nCols*colW).attr("y1",Y0).attr("y2",Y0).attr("stroke-width",1.3);
ax.append("line").attr("x1",X0).attr("x2",X0+nCols*colW).attr("y1",Y1).attr("y2",Y1).attr("stroke-width",1.3);
for (let c=0;c<=nCols;c++){
  const xx = X0 + c*colW;
  ax.append("line").attr("x1",xx).attr("x2",xx).attr("y1",Y0).attr("y2",Y1).attr("stroke-width",1.3);
}
for (let c=0;c<nCols;c++){
  const x = xScales[c];
  d3.range(-24,25,1).forEach(v=>{
    const len = v%10===0 ? 6 : 3;
    ax.append("line").attr("x1",x(v)).attr("x2",x(v)).attr("y1",Y0).attr("y2",Y0+len).attr("stroke-width",1);
    ax.append("line").attr("x1",x(v)).attr("x2",x(v)).attr("y1",Y1).attr("y2",Y1-len).attr("stroke-width",1);
  });
  xTickLabels.forEach(v=>{
    svg.append("text").attr("x",x(v)).attr("y",Y1+20).attr("font-size",12).attr("text-anchor","middle").text(v<0?"−"+Math.abs(v):String(v));
  });
}
for (let r=0;r<nRows;r++){
  const y = yScales[r];
  const vals = d3.range(-0.02, 1.03, 0.05);
  for (let c=0;c<=nCols;c++){
    const xx = X0 + c*colW;
    vals.forEach((v,i)=>{
      const yy = y(v);
      if (yy < Y0+r*rowH+0.5 || yy > Y0+(r+1)*rowH-0.5) return;
      const len = (i%4===2) ? 6 : 3;
      if (c<nCols) ax.append("line").attr("x1",xx).attr("x2",xx+len).attr("y1",yy).attr("y2",yy).attr("stroke-width",1);
      if (c>0) ax.append("line").attr("x1",xx-len).attr("x2",xx).attr("y1",yy).attr("y2",yy).attr("stroke-width",1);
    });
  }
}

// ---------------- titles ----------------
svg.append("text").attr("x",X0+nCols*colW/2).attr("y",22).attr("text-anchor","middle").attr("font-size",15).text(titleText);
svg.append("text").attr("x",X0+nCols*colW/2).attr("y",Y1+36).attr("text-anchor","middle").attr("font-size",14).text(xTitle);
svg.append("text").attr("transform",`translate(34,${(Y0+Y1)/2}) rotate(-90)`).attr("text-anchor","middle").attr("font-size",12.5).text(yTitle);
</script></body></html>
